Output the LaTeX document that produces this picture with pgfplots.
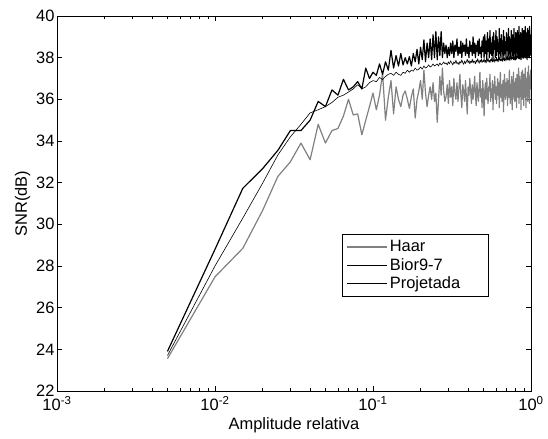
\documentclass[border=0pt]{standalone}
\usepackage{fontspec}
\setmainfont{Liberation Sans}
\usepackage{pgfplots}
\usepackage{pgfplotstable}
\pgfplotsset{compat=1.18}
\definecolor{haargray}{RGB}{128,128,128}
\pgfplotstableread{
x haar bior proj
0.005 23.55 23.7 23.9
0.010 27.48 28.0 28.8
0.015 28.85 30.3 31.73
0.020 30.66 31.97 32.67
0.025 32.3 33.33 33.55
0.030 33.0 34.2 34.5
0.035 33.9 34.8 34.5
0.040 33.1 35.35 35.0
0.045 34.8 35.5 35.9
0.050 33.9 35.65 35.65
0.055 34.5 35.85 36.45
0.060 34.6 36.1 36.2
0.065 35.2 36.2 36.96
0.070 36.0 36.35 36.45
0.075 35.25 36.5 36.6
0.080 35.3 36.7 36.85
0.085 34.3 36.5 36.5
0.090 35.0 36.6 37.5
0.095 35.65 36.8 37.0
0.100 36.3 36.9 37.3
0.105 35.5 36.85 37.15
0.110 36.2 37.05 37.7
0.115 37.25 36.95 37.2
0.120 35.0 37.1 37.8
0.125 36.1 37.2 37.4
0.130 36.9 37.25 38.35
0.135 35.3 37.15 37.5
0.140 36.6 37.3 38.1
0.145 36.0 37.2 37.6
0.150 35.65 37.15 38.2
0.155 36.2 37.3 37.65
0.160 36.4 37.25 38.0
0.165 36.0 37.4 37.7
0.170 35.57 37.3 38.05
0.175 36.13 37.4 37.6
0.180 36.5 37.35 38.2
0.185 35.1 37.5 37.8
0.190 36.0 37.4 38.4
0.195 36.4 37.45 37.7
0.200 36.9 37.55 38.5
0.205 36.0 37.45 37.9
0.210 37.4 37.6 38.85
0.215 36.3 37.5 37.8
0.220 35.65 37.55 38.7
0.225 36.2 37.65 38.0
0.230 36.6 37.55 38.9
0.235 36.0 37.6 37.9
0.240 36.8 37.7 39.1
0.245 35.9 37.6 38.0
0.250 36.3 37.65 39.25
0.255 34.9 37.7 37.9
0.260 36.0 37.6 39.0
0.265 37.1 37.75 38.1
0.270 36.2 37.65 39.25
0.275 37.5 37.7 38.0
0.280 36.4 37.8 38.7
0.285 35.9 37.7 38.2
0.290 36.13 37.75 38.6
0.295 36.7 37.65 38.0
0.300 35.8 37.8 38.5
0.305 36.9 37.70 38.1
0.310 36.1 37.85 38.7
0.315 36.6 37.75 38.2
0.320 35.7 37.65 38.8
0.325 37.0 37.80 38.0
0.330 36.3 37.72 38.6
0.335 36.0 37.88 38.3
0.340 36.8 37.70 38.9
0.345 35.9 37.78 38.1
0.350 36.5 37.66 38.5
0.355 37.2 37.82 38.2
0.360 36.2 37.74 38.8
0.365 35.6 37.90 38.0
0.370 36.7 37.76 38.7
0.375 36.4 37.68 38.3
0.380 35.9 37.84 38.6
0.385 36.9 37.72 38.1
0.390 36.1 37.80 38.9
0.395 35.3 37.92 38.2
0.400 36.6 37.75 38.5
0.405 36.2 37.86 38.0
0.410 37.0 37.70 38.8
0.415 36.4 37.83 38.3
0.420 35.8 37.77 38.6
0.425 36.7 37.93 38.1
0.430 36.0 37.74 39.0
0.435 36.5 37.85 38.2
0.440 37.1 37.80 38.7
0.445 36.2 37.70 38.0
0.450 35.7 37.88 38.6
0.455 36.8 37.78 38.3
0.460 36.3 37.95 38.8
0.465 35.9 37.82 38.1
0.470 36.6 37.73 38.9
0.475 37.3 37.87 38.2
0.480 36.1 37.79 38.5
0.485 36.5 37.94 38.0
0.490 35.6 37.76 38.8
0.495 36.9 37.86 38.3
0.500 36.3 37.81 39.0
0.505 35.2 37.97 38.0
0.510 36.4 37.78 39.1
0.515 36.8 37.88 38.2
0.520 36.0 37.74 38.8
0.525 37.0 37.90 37.9
0.530 36.2 37.83 39.2
0.535 35.8 37.98 38.3
0.540 36.6 37.80 38.9
0.545 36.4 37.87 38.0
0.550 37.2 37.76 39.3
0.555 35.9 37.92 38.2
0.560 36.5 37.84 38.7
0.565 36.1 38.00 38.1
0.570 36.9 37.79 39.0
0.575 35.5 37.89 37.9
0.580 36.7 37.82 39.2
0.585 36.3 37.96 38.4
0.590 37.1 37.78 38.8
0.595 36.0 37.91 38.0
0.600 36.6 37.85 39.3
0.605 35.8 38.02 38.1
0.610 36.4 37.83 39.0
0.615 37.0 37.93 38.3
0.620 36.2 37.80 38.7
0.625 36.8 37.97 37.9
0.630 35.6 37.88 39.4
0.635 36.5 38.04 38.2
0.640 37.3 37.84 38.9
0.645 36.1 37.92 38.0
0.650 36.7 37.86 39.1
0.655 35.9 38.00 38.3
0.660 36.4 37.82 38.8
0.665 36.9 37.95 37.9
0.670 35.4 37.89 39.3
0.675 36.6 38.06 38.1
0.680 37.2 37.85 39.0
0.685 36.3 37.98 38.2
0.690 36.0 37.90 38.7
0.695 36.8 37.84 38.0
0.700 36.2 38.03 39.2
0.705 37.0 37.91 38.4
0.710 35.7 38.08 38.9
0.715 36.5 37.87 38.1
0.720 36.9 37.99 39.4
0.725 36.1 37.92 37.9
0.730 37.4 38.05 39.0
0.735 36.3 37.86 38.2
0.740 35.8 38.01 38.8
0.745 36.7 37.94 38.0
0.750 36.4 38.10 39.3
0.755 37.1 37.89 38.3
0.760 35.5 38.03 39.1
0.765 36.6 37.95 38.1
0.770 36.2 38.12 38.7
0.775 37.3 37.90 38.0
0.780 36.0 38.04 39.4
0.785 36.8 37.97 38.2
0.790 35.9 37.88 38.9
0.795 36.5 38.09 37.9
0.800 37.0 37.96 39.2
0.805 36.3 38.14 38.4
0.810 35.6 37.92 38.8
0.815 37.2 38.06 38.0
0.820 36.4 37.99 39.3
0.825 36.9 38.16 38.2
0.830 36.1 37.94 39.0
0.835 37.5 38.08 38.1
0.840 35.8 38.01 39.5
0.845 36.6 37.93 38.0
0.850 37.1 38.12 38.9
0.855 36.2 37.98 38.3
0.860 36.8 38.18 39.2
0.865 35.5 37.95 37.9
0.870 37.3 38.10 39.0
0.875 36.5 38.03 38.2
0.880 36.0 38.20 39.4
0.885 37.4 37.97 38.1
0.890 36.3 38.11 38.8
0.895 36.9 38.04 38.0
0.900 35.7 37.96 39.3
0.905 37.2 38.15 38.4
0.910 36.6 38.02 39.1
0.915 36.1 38.22 38.1
0.920 37.5 37.99 39.5
0.925 36.4 38.13 38.0
0.930 35.6 38.06 38.9
0.935 37.0 38.24 38.3
0.940 36.7 38.00 39.2
0.945 36.2 38.14 37.9
0.950 37.3 38.05 39.4
0.955 35.9 38.20 38.2
0.960 36.8 38.03 39.0
0.965 37.6 38.26 38.1
0.970 36.3 38.08 39.3
0.975 36.9 38.17 38.0
0.980 35.8 38.01 39.5
0.985 37.1 38.22 38.4
0.990 36.5 38.10 39.1
0.995 37.4 38.28 38.2
1.000 36.6 38.12 38.9
}\snrdata
\begin{document}
\begin{tikzpicture}
\path[use as bounding box] (-57bp,-48bp) rectangle (491bp,391bp);
\begin{axis}[
  scale only axis,
  width=474bp, height=375bp,
  xmode=log,
  xmin=1e-3, xmax=1, ymin=22, ymax=40,
  ytick={22,24,26,28,30,32,34,36,38,40},
  xtick={0.001,0.01,0.1,1},
  xticklabels={10\textsuperscript{-3},10\textsuperscript{-2},10\textsuperscript{-1},10\textsuperscript{0}},
  minor xtick={0.002,0.003,0.004,0.005,0.006,0.007,0.008,0.009,0.02,0.03,0.04,0.05,0.06,0.07,0.08,0.09,0.2,0.3,0.4,0.5,0.6,0.7,0.8,0.9},
  tick align=inside, tick pos=both,
  major tick length=5bp, minor tick length=3bp,
  every tick/.style={black, line width=0.5pt},
  axis line style={line width=0.7pt},
  /pgf/number format/assume math mode=true,
  tick label style={font=\fontsize{16.5}{18}\selectfont},
  yticklabel style={xshift=1bp},
  xticklabel style={yshift=-2bp},
  label style={font=\fontsize{16.5}{18}\selectfont},
  xlabel={Amplitude relativa},
  xlabel style={yshift=0bp},
  ylabel={SNR(dB)},
  ylabel style={yshift=-1bp},
  legend style={at={(rel axis cs:0.602,0.418)}, anchor=north west, draw=black, line width=0.6pt, fill=white, font=\fontsize{16.5}{18}\selectfont, inner xsep=4bp, inner ysep=4bp, row sep=1bp},
  legend cell align=left,
  legend image code/.code={\path (0bp,0bp) -- (40bp,0bp); \draw[#1] (4bp,0bp) -- (34bp,0bp);},
]
\addplot[haargray, line width=1.2pt, line join=round] table[x=x, y=haar] {\snrdata};
\addlegendentry{Haar}
\addplot[black, line width=0.6pt, line join=round] table[x=x, y=bior] {\snrdata};
\addlegendentry{Bior9-7}
\addplot[black, line width=1.2pt, line join=round] table[x=x, y=proj] {\snrdata};
\addlegendentry{Projetada\hspace*{22bp}}
\end{axis}
\end{tikzpicture}
\end{document}
